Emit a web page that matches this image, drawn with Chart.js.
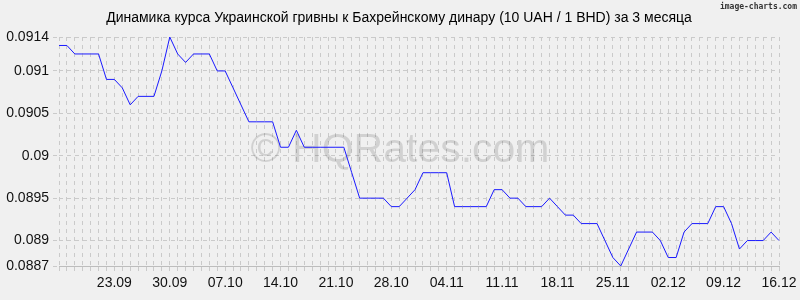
<!DOCTYPE html>
<html>
<head>
<meta charset="utf-8">
<script src="https://cdn.jsdelivr.net/npm/chart.js@4"></script>
<style>
  html, body { margin: 0; padding: 0; background: #f0f0f0; }
  #wrap { width: 800px; height: 300px; }
</style>
</head>
<body>
<div id="wrap"><canvas id="chart" width="800" height="300"></canvas></div>
<script>
// first day of the series and number of daily points
var startDay = [2023, 8, 16];
var dayCount = 92;

// UAH -> BHD rate (10 UAH / 1 BHD), one value per day
var rates = [
    0.0913, 0.0913, 0.0912, 0.0912, 0.0912, 0.0912, 0.0909, 0.0909, 0.0908, 0.0906,
    0.0907, 0.0907, 0.0907, 0.0910, 0.0914, 0.0912, 0.0911, 0.0912, 0.0912, 0.0912,
    0.0910, 0.0910, 0.0908, 0.0906, 0.0904, 0.0904, 0.0904, 0.0904, 0.0901, 0.0901,
    0.0903, 0.0901, 0.0901, 0.0901, 0.0901, 0.0901, 0.0901, 0.0898, 0.0895, 0.0895,
    0.0895, 0.0895, 0.0894, 0.0894, 0.0895, 0.0896, 0.0898, 0.0898, 0.0898, 0.0898,
    0.0894, 0.0894, 0.0894, 0.0894, 0.0894, 0.0896, 0.0896, 0.0895, 0.0895, 0.0894,
    0.0894, 0.0894, 0.0895, 0.0894, 0.0893, 0.0893, 0.0892, 0.0892, 0.0892, 0.0890,
    0.0888, 0.0887, 0.0889, 0.0891, 0.0891, 0.0891, 0.0890, 0.0888, 0.0888, 0.0891,
    0.0892, 0.0892, 0.0892, 0.0894, 0.0894, 0.0892, 0.0889, 0.0890, 0.0890, 0.0890,
    0.0891, 0.0890
];

// labels shown under the x axis
var xTickLabels = ["23.09", "30.09", "07.10", "14.10", "21.10", "28.10", "04.11",
                   "11.11", "18.11", "25.11", "02.12", "09.12", "16.12"];

// y axis ticks
var yTicks = [0.0887, 0.089, 0.0895, 0.09, 0.0905, 0.091, 0.0914];

var titleText = "Динамика курса Украинской гривны к Бахрейнскому динару (10 UAH / 1 BHD) за 3 месяца";

function pad2(n) { return (n < 10 ? "0" : "") + n; }

var days = [];
for (var i = 0; i < dayCount; i++) {
    var d = new Date(startDay[0], startDay[1], startDay[2] + i);
    days.push(pad2(d.getDate()) + "." + pad2(d.getMonth() + 1));
}

var gridColor = "#cacaca";

var decor = {
    id: "decor",
    beforeDatasetsDraw: function (chart) {
        var ctx = chart.ctx;
        ctx.save();
        ctx.fillStyle = "rgba(0,0,0,0.13)";
        ctx.font = "41px 'Liberation Sans', Arial, sans-serif";
        ctx.textAlign = "center";
        ctx.textBaseline = "alphabetic";
        ctx.fillText("\u00a9 HQRates.com", 400, 162);
        ctx.restore();
    },
    afterDraw: function (chart) {
        var ctx = chart.ctx;
        ctx.save();
        ctx.fillStyle = "#000";
        ctx.font = "14px 'Liberation Sans', Arial, sans-serif";
        ctx.textAlign = "center";
        ctx.textBaseline = "middle";
        ctx.fillText(titleText, 399, 18);
        ctx.fillStyle = "#333";
        ctx.font = "bold 8px 'DejaVu Sans Mono', monospace";
        ctx.textAlign = "right";
        ctx.fillText("image-charts.com", 797, 7);
        ctx.restore();
    }
};

new Chart(document.getElementById("chart"), {
    type: "line",
    data: {
        labels: days,
        datasets: [{
            data: rates,
            borderColor: "#1a1aff",
            borderWidth: 1,
            pointRadius: 0,
            tension: 0,
            fill: false
        }]
    },
    options: {
        responsive: false,
        animation: false,
        layout: { padding: { top: 37, right: 21, left: 0, bottom: 0 } },
        plugins: {
            legend: { display: false },
            title: { display: false },
            tooltip: { enabled: false }
        },
        scales: {
            x: {
                offset: false,
                grid: {
                    color: gridColor,
                    lineWidth: 1,
                    tickLength: 6,
                    tickColor: gridColor,
                    tickBorderDash: [4, 4]
                },
                border: { display: true, color: "#bdbdbd", dash: [4, 4] },
                ticks: {
                    autoSkip: false,
                    maxRotation: 0,
                    padding: 3,
                    color: "#111",
                    font: { family: "'Liberation Sans', Arial, sans-serif", size: 14 },
                    callback: function (val, idx) {
                        var l = days[idx];
                        return xTickLabels.indexOf(l) >= 0 && idx > 0 ? l : "";
                    }
                },
                afterFit: function (s) { s.height = 34; }
            },
            y: {
                min: 0.0887,
                max: 0.0914,
                afterBuildTicks: function (s) {
                    s.ticks = yTicks.map(function (v) { return { value: v }; });
                },
                grid: {
                    color: gridColor,
                    tickLength: 6,
                    tickColor: gridColor,
                    tickBorderDash: [4, 4]
                },
                border: { display: false, dash: [4, 4] },
                ticks: {
                    padding: 4,
                    color: "#111",
                    font: { family: "'Liberation Sans', Arial, sans-serif", size: 14 },
                    callback: function (v) { return String(Math.round(v * 10000) / 10000); }
                },
                afterFit: function (s) { s.width = 59; }
            }
        }
    },
    plugins: [decor]
});
</script>
</body>
</html>
